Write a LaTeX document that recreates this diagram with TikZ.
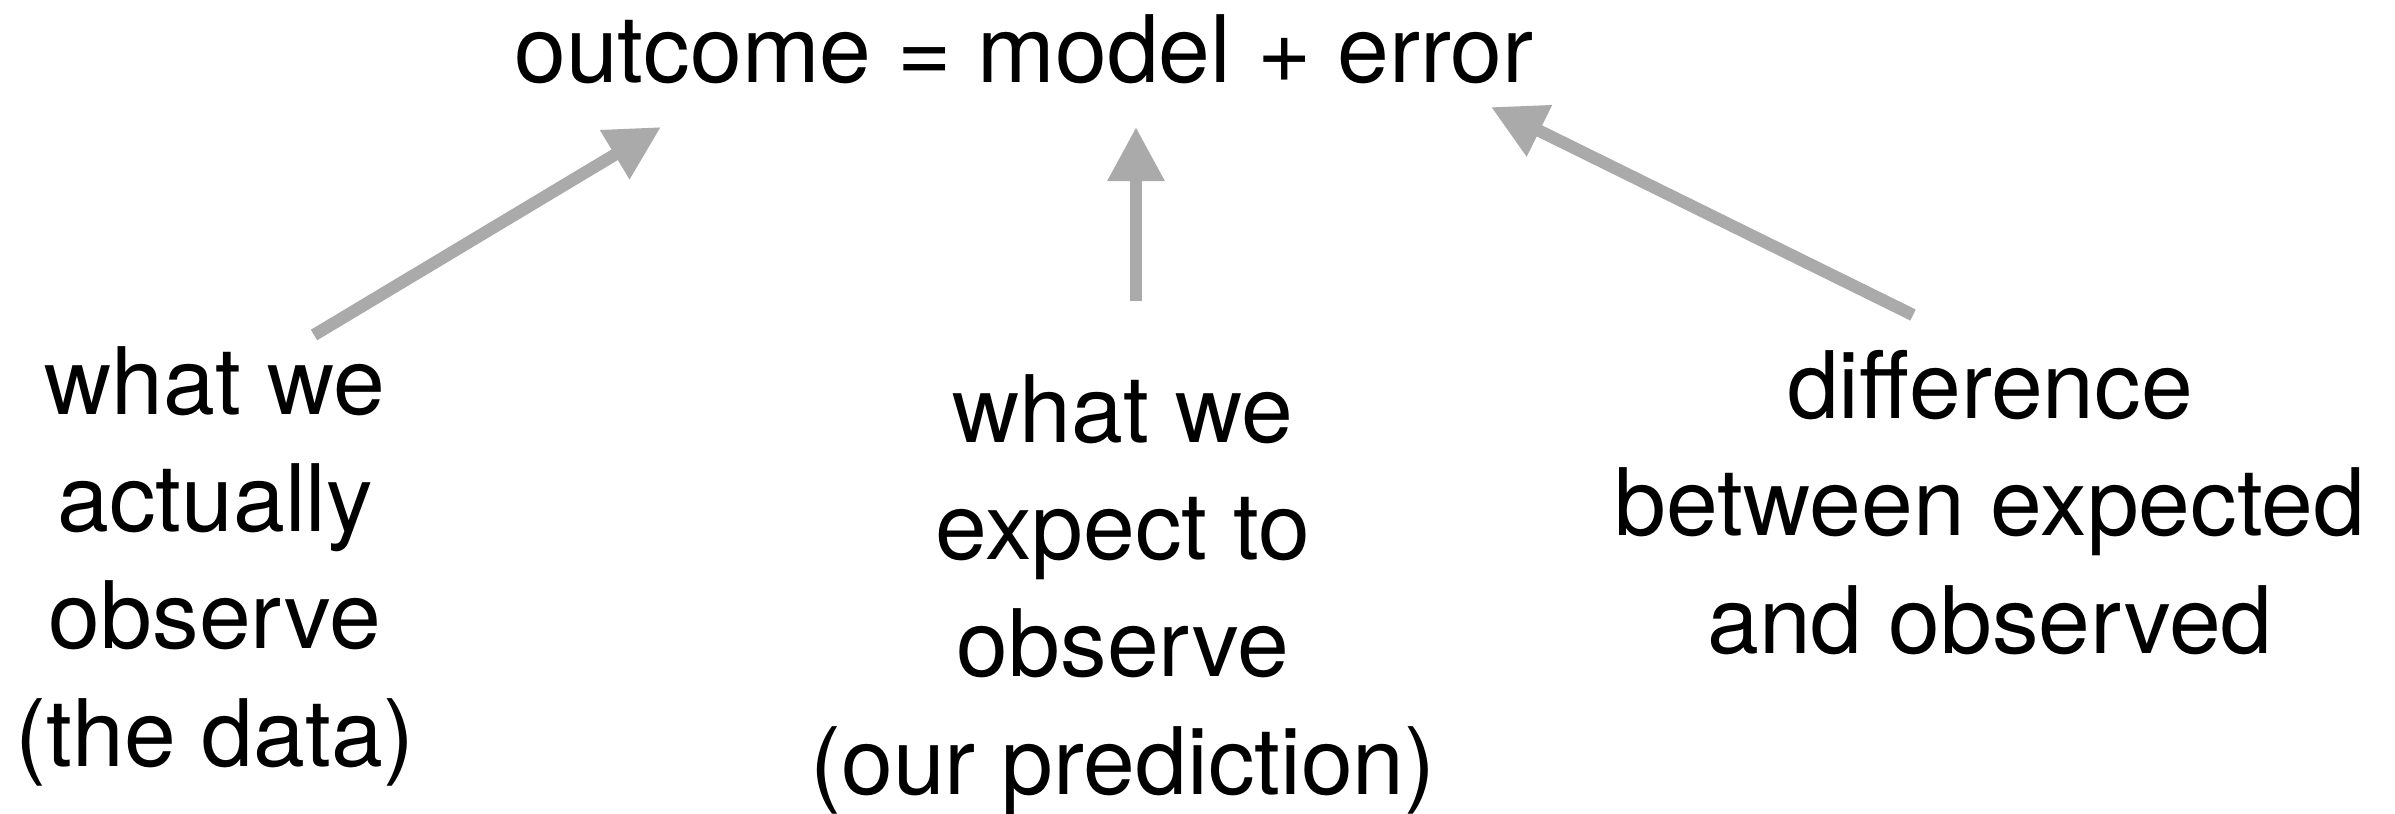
\documentclass[tikz,border=0pt]{standalone}
\usepackage{fontspec}
\setmainfont{TeX Gyre Heros}
\usetikzlibrary{arrows.meta, positioning}
\definecolor{cgrey}{HTML}{AAAAAA}
\tikzset{
  every picture/.style={font=\fontsize{26.5}{33.3}\selectfont},
  txt/.style={align=center, inner sep=0pt, anchor=base},
  arrow/.style={-{Triangle[length=5.4mm, width=5.4mm]}, draw=cgrey, line width=3.5pt},
}

\begin{document}
\begin{tikzpicture}
  \useasboundingbox (0,0) rectangle (23.95,-8.13);

  \node[txt] (eq) at (10.24,-0.82) {outcome = model + error};

  % base = baseline of the last line
  \node[txt] (obs) at (2.15,-7.66) {what we\\ actually\\ observe\\ (the data)};
  \node[txt] (pred) at (11.23,-7.94) {what we\\ expect to\\ observe\\ (our prediction)};
  \node[txt] (diff) at (19.90,-6.53) {difference\\ between expected\\ and observed};

  % arrow ends
  \coordinate (obs tail) at (3.14,-3.35);
  \coordinate (obs tip) at (6.61,-1.27);
  \coordinate (pred tail) at (11.36,-3.01);
  \coordinate (pred tip) at (11.36,-1.27);
  \coordinate (diff tail) at (19.13,-3.15);
  \coordinate (diff tip) at (14.91,-1.07);

  \draw[arrow] (obs tail) -- (obs tip);
  \draw[arrow] (pred tail) -- (pred tip);
  \draw[arrow] (diff tail) -- (diff tip);
\end{tikzpicture}
\end{document}
